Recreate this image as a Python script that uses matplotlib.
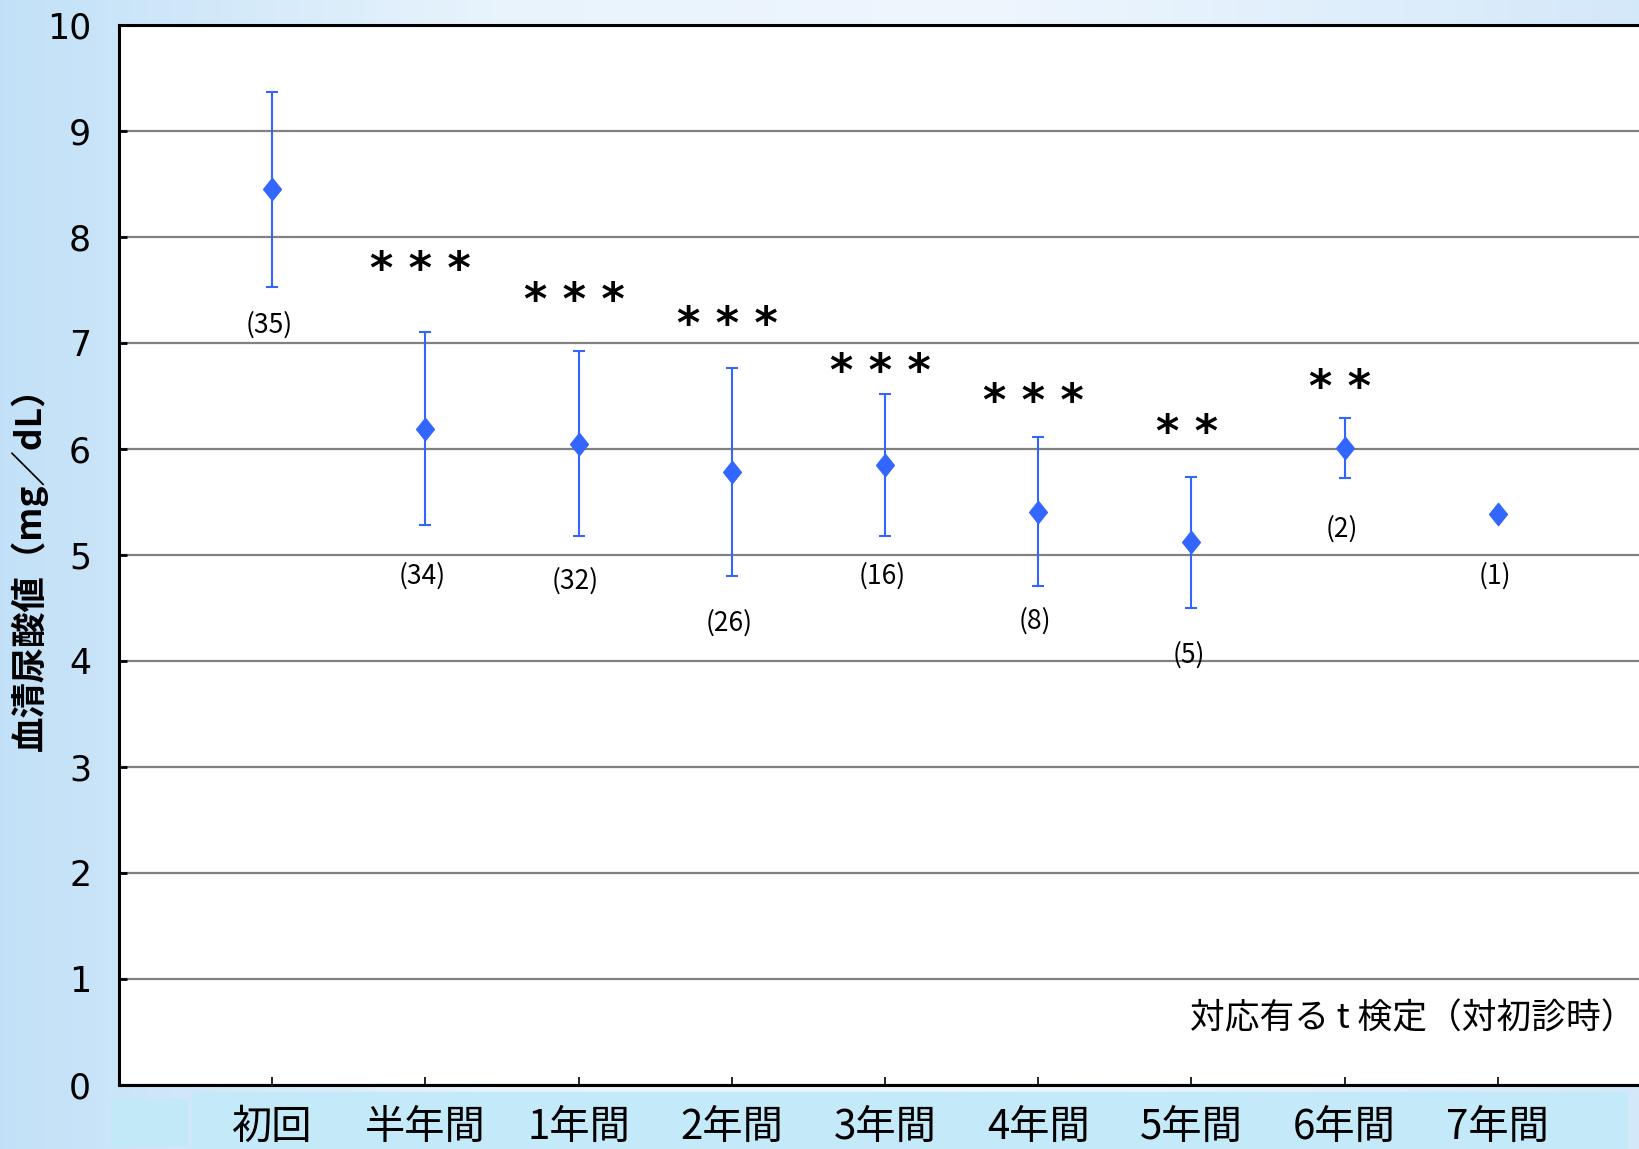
import numpy as np
import matplotlib
matplotlib.use("Agg")
import matplotlib.pyplot as plt
from matplotlib.path import Path
from matplotlib.patches import Rectangle

plt.rcParams['font.family'] = ['Noto Sans CJK JP', 'DejaVu Sans']

# データ
categories = ["初回", "半年間", "1年間", "2年間", "3年間", "4年間", "5年間", "6年間", "7年間"]
means = [8.45, 6.19, 6.05, 5.78, 5.85, 5.41, 5.12, 6.01, 5.39]
sd = [0.92, 0.91, 0.87, 0.98, 0.67, 0.70, 0.62, 0.28, 0.0]
n_labels = ["(35)", "(34)", "(32)", "(26)", "(16)", "(8)", "(5)", "(2)", "(1)"]
n_label_y = [7.17, 4.80, 4.75, 4.36, 4.80, 4.38, 4.06, 5.24, 4.80]
stars = ["", "* * *", "* * *", "* * *", "* * *", "* * *", "* *", "* *", ""]
star_y = [0, 7.79, 7.50, 7.27, 6.83, 6.54, 6.25, 6.68, 0]
yticks = list(range(0, 11))

W, H = 1639, 1149
fig = plt.figure(figsize=(W / 100, H / 100), dpi=100)

# 背景グラデーション
bg = fig.add_axes([0, 0, 1, 1], zorder=-10)
bg.axis("off")
xs = np.linspace(0, 1, 400)
stops_x = [0.0, 0.3, 0.6, 1.0]
stops_c = np.array([[0.76, 0.88, 0.97],
                    [0.91, 0.955, 0.99],
                    [0.935, 0.965, 0.995],
                    [0.83, 0.91, 0.98]])
row = np.stack([np.interp(xs, stops_x, stops_c[:, k]) for k in range(3)], axis=-1)
grad = np.repeat(row[None, :, :], 50, axis=0)
bg.imshow(grad, aspect="auto", extent=[0, 1, 0, 1])
bg.set_xlim(0, 1)
bg.set_ylim(0, 1)
# 下部の帯
fig.patches.append(Rectangle((192 / W, 0), (1627 - 192) / W, (H - 1092) / H,
                             transform=fig.transFigure, color="#c4eaf9", zorder=-5))
fig.patches.append(Rectangle((112 / W, 4 / H), (187 - 112) / W, (H - 1099 - 4) / H,
                             transform=fig.transFigure, color="#c2e9f8", zorder=-5))

left, right, top, bottom = 119, 1651, 25, 1085
ax = fig.add_axes([left / W, 1 - bottom / H, (right - left) / W, (bottom - top) / H])
ax.set_facecolor("white")

x = np.arange(len(categories))
diamond = Path([(0, 1), (0.8, 0), (0, -1), (-0.8, 0), (0, 1)],
               [Path.MOVETO, Path.LINETO, Path.LINETO, Path.LINETO, Path.CLOSEPOLY])
blue = "#3366ff"
err = [s if s > 0 else np.nan for s in sd]
ax.errorbar(x, means, yerr=err, fmt="none", ecolor=blue, elinewidth=1.5,
            capsize=4.5, capthick=1.5, zorder=3)
ax.plot(x, means, linestyle="none", marker=diamond, markersize=16,
        color=blue, markeredgecolor=blue, zorder=4)

for xi, lab, ly in zip(x, n_labels, n_label_y):
    ax.text(xi - 0.02, ly, lab, ha="center", va="center", fontsize=19, color="black")
for xi, st, sy in zip(x, stars, star_y):
    if st:
        ax.annotate(st, (xi - 0.03, sy), xytext=(0, -17), textcoords="offset points",
                    ha="center", va="baseline", fontsize=32, fontweight="bold",
                    family="DejaVu Sans", color="black")

ax.text(0.99, 0.062, "対応有る t 検定（対初診時）", transform=ax.transAxes,
        ha="right", va="center", fontsize=25, color="black")

ax.set_xlim(-1, 9)
ax.set_ylim(0, 10)
ax.set_yticks(yticks)
ax.set_xticks(x)
ax.set_xticklabels(categories)
ax.yaxis.grid(True, color="#808080", linewidth=1.6)
ax.set_axisbelow(True)
ax.tick_params(axis="y", direction="in", length=6, width=2, pad=20, labelsize=25)
for tl in ax.get_yticklabels():
    tl.set_family(["Liberation Sans Narrow", "DejaVu Sans"])
ax.tick_params(axis="x", direction="in", length=6, width=1.2, pad=16, labelsize=29)
for s in ["left", "bottom", "top"]:
    ax.spines[s].set_linewidth(2.2)
ax.spines["right"].set_visible(False)

fig.text(29 / W, 1 - 560 / H, "血清尿酸値（mg／dL）", rotation=90, ha="center",
         va="center", fontsize=25.5, fontweight="bold")

fig.savefig("out.png", dpi=100)
